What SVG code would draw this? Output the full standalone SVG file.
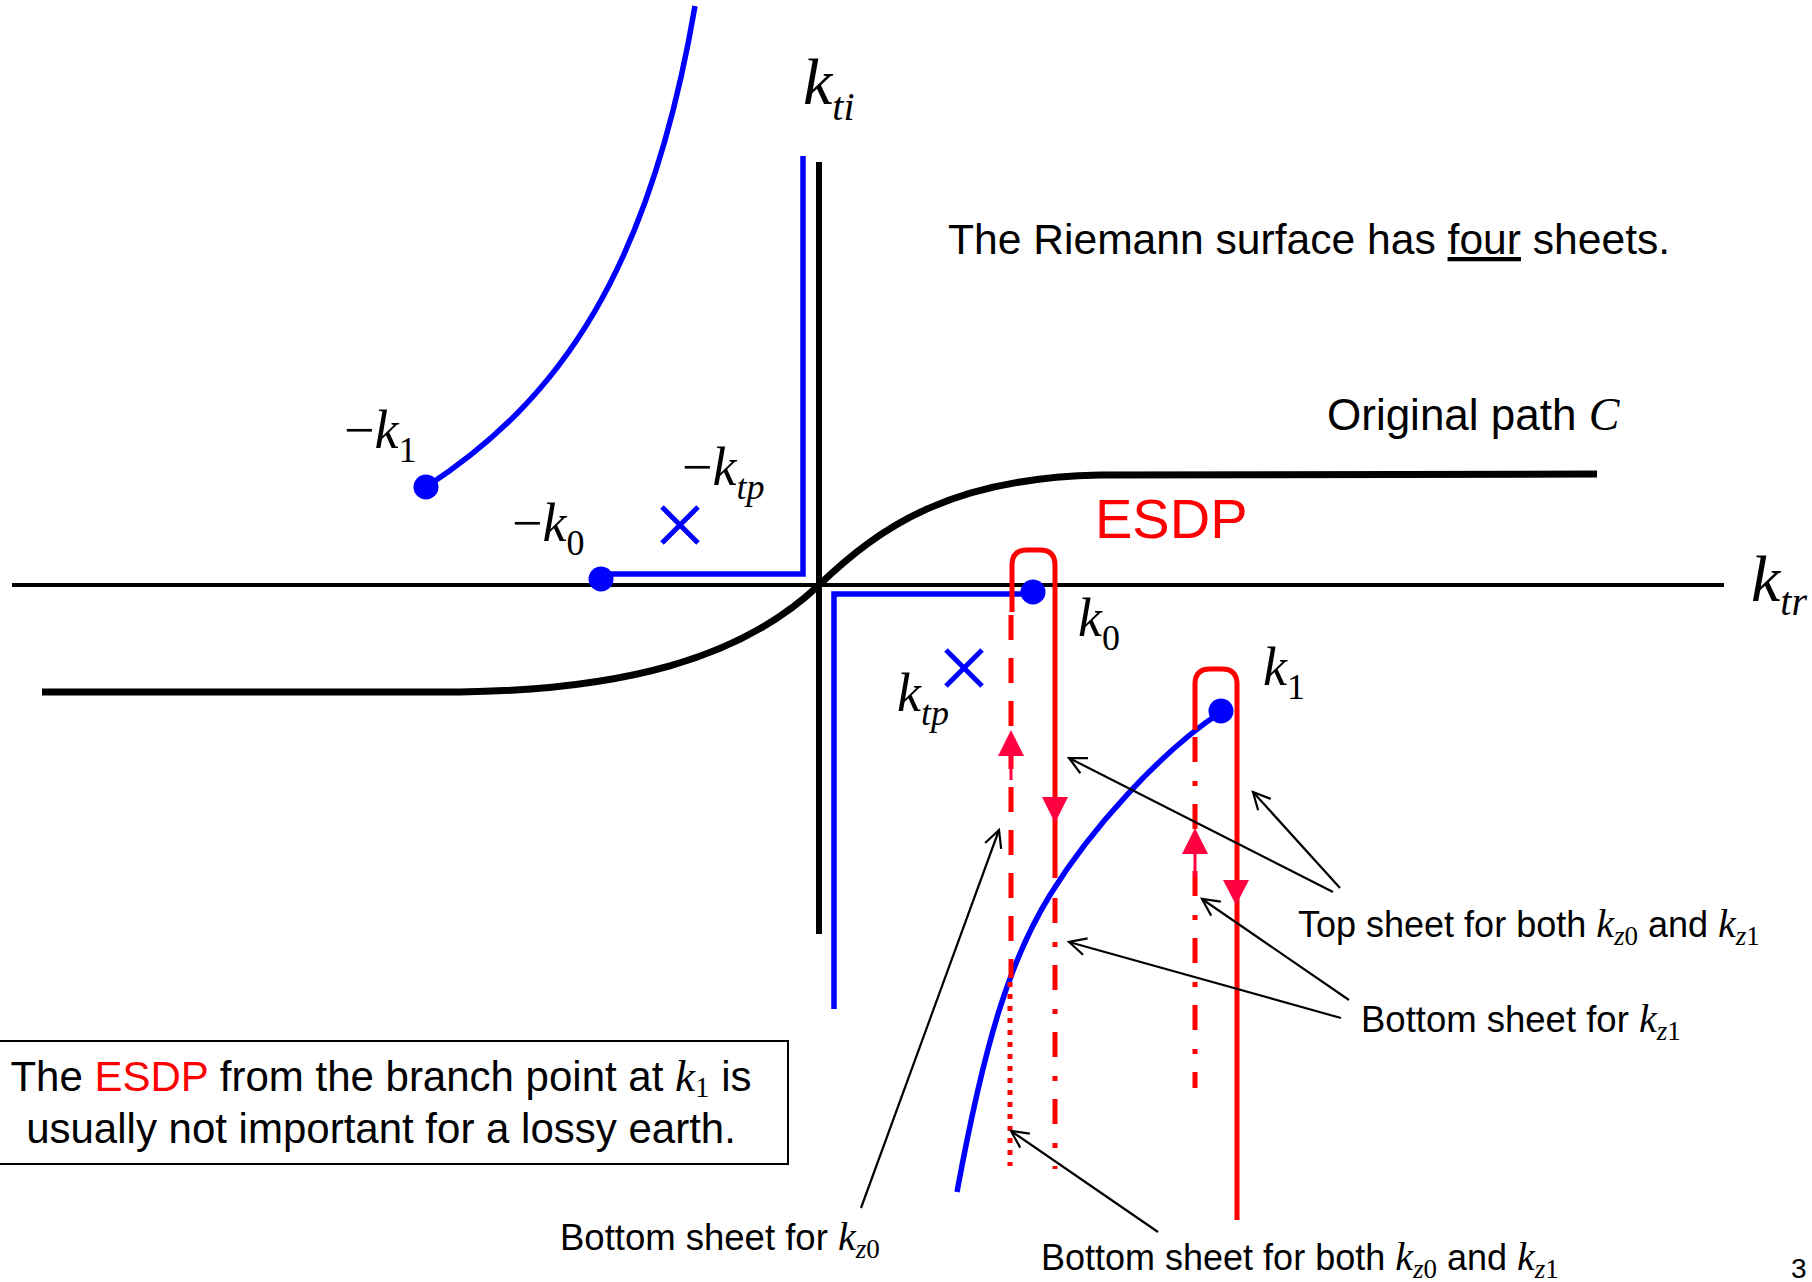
<svg xmlns="http://www.w3.org/2000/svg" width="1812" height="1282" viewBox="0 0 1812 1282">
<defs>
<style>
.sans{font-family:"Liberation Sans",Arial,sans-serif;fill:#000}
.ser{font-family:"Liberation Serif","Times New Roman",serif;fill:#000}
.it{font-style:italic}
.blue{stroke:#0000FF;stroke-width:5.5;fill:none}
.red{stroke:#FF0000;stroke-width:5;fill:none}
.dash{stroke-dasharray:25 18}
.dashdot{stroke-dasharray:25 19 5 18}
.dot{stroke-dasharray:5 7}
.lead{stroke:#000;stroke-width:2.2;fill:none;marker-end:url(#open)}
.rarrow{fill:#FF0040;stroke:none}
.rstem{stroke:#FF0040;stroke-width:3}
.bdot{fill:#0000FF}
</style>
<marker id="open" viewBox="-20 -12 24 24" markerWidth="24" markerHeight="24" refX="0" refY="0" orient="auto" markerUnits="userSpaceOnUse">
<path d="M-17,-8.5 L0,0 L-17,8.5" fill="none" stroke="#000" stroke-width="2.2"/>
</marker>
</defs>
<rect width="1812" height="1282" fill="#fff"/>

<g id="axes">
<line x1="12" y1="585" x2="1724" y2="585" stroke="#000" stroke-width="4"/>
<line x1="819" y1="162" x2="819" y2="934" stroke="#000" stroke-width="6"/>
<text class="ser" x="803" y="104" font-size="66"><tspan class="it">k</tspan><tspan class="it" font-size="40" dy="16">ti</tspan></text>
<text class="ser" x="1751" y="601" font-size="66"><tspan class="it">k</tspan><tspan class="it" font-size="40" dy="14">tr</tspan></text>
</g>

<g id="path-C">
<path d="M42,692 L460,692 C620,690 740,660 819,585 C880,527 950,478 1100,475 L1597,474" fill="none" stroke="#000" stroke-width="7"/>
<text class="sans" x="1327" y="430" font-size="44">Original path <tspan class="ser it" font-size="46">C</tspan></text>
</g>

<g id="branch-cuts">
<path class="blue" d="M426,487 C560,400 650,270 695,6"/>
<path class="blue" d="M803,156 V574 H601"/>
<path class="blue" d="M1033,594 H834 V1009"/>
<path class="blue" d="M1221,712 C1160,752 1090,830 1050,895 C1010,960 985,1040 957,1192"/>
</g>

<g id="node-minus-k1">
<circle class="bdot" cx="426" cy="487" r="12.5"/>
<text class="ser" x="344" y="448" font-size="54">−<tspan class="it">k</tspan><tspan font-size="36" dy="14">1</tspan></text>
</g>
<g id="node-minus-k0">
<circle class="bdot" cx="601" cy="579" r="12.5"/>
<text class="ser" x="512" y="541" font-size="54">−<tspan class="it">k</tspan><tspan font-size="36" dy="14">0</tspan></text>
</g>
<g id="node-minus-ktp">
<path d="M662,507 L698,543 M698,507 L662,543" stroke="#0000FF" stroke-width="5"/>
<text class="ser" x="682" y="485" font-size="54">−<tspan class="it">k</tspan><tspan class="it" font-size="36" dy="14">tp</tspan></text>
</g>
<g id="node-ktp">
<path d="M946,650 L982,686 M982,650 L946,686" stroke="#0000FF" stroke-width="5"/>
<text class="ser" x="897" y="711" font-size="54"><tspan class="it">k</tspan><tspan class="it" font-size="36" dy="14">tp</tspan></text>
</g>

<g id="esdp-k0">
<path class="red" d="M1012,612 V565 Q1012,550 1027,550 H1040 Q1055,550 1055,565 V878"/>
<path class="red dash" d="M1011,615 V978"/>
<path class="red dot" d="M1010,982 V1166"/>
<path class="red dashdot" d="M1055,898 V1169"/>
<line class="rstem" x1="1011" y1="752" x2="1011" y2="780"/>
<polygon class="rarrow" points="1011,730 1024,756 998,756"/>
<polygon class="rarrow" points="1055,823 1068,797 1042,797"/>
</g>

<g id="node-k0">
<circle class="bdot" cx="1033" cy="592" r="12.5"/>
<text class="ser" x="1078" y="636" font-size="54"><tspan class="it">k</tspan><tspan font-size="36" dy="14">0</tspan></text>
</g>

<g id="esdp-k1">
<path class="red" d="M1195,730 V684 Q1195,669 1210,669 H1222 Q1237,669 1237,684 V1220"/>
<path class="red dashdot" d="M1195,737 V1088"/>
<line class="rstem" x1="1195" y1="850" x2="1195" y2="877"/>
<polygon class="rarrow" points="1195,828 1208,854 1182,854"/>
<polygon class="rarrow" points="1236,905 1249,880 1223,880"/>
</g>

<g id="node-k1">
<circle class="bdot" cx="1221" cy="711" r="12.5"/>
<text class="ser" x="1263" y="685" font-size="54"><tspan class="it">k</tspan><tspan font-size="36" dy="14">1</tspan></text>
</g>

<g id="title">
<text class="sans" x="948" y="254" font-size="42.6">The Riemann surface has <tspan text-decoration="underline">four</tspan> sheets.</text>
</g>
<g id="esdp-label">
<text class="sans" x="1095" y="538" font-size="56" style="fill:#FF0000">ESDP</text>
</g>

<g id="connectors">
<line class="lead" x1="1333" y1="892" x2="1069" y2="758"/>
<line class="lead" x1="1340" y1="888" x2="1253" y2="792"/>
<line class="lead" x1="1341" y1="1018" x2="1069" y2="942"/>
<line class="lead" x1="1349" y1="1000" x2="1202" y2="899"/>
<line class="lead" x1="861" y1="1208" x2="999" y2="830"/>
<line class="lead" x1="1158" y1="1232" x2="1011" y2="1131"/>
</g>

<g id="label-top-both">
<text class="sans" x="1298" y="937" font-size="36">Top sheet for both <tspan class="ser it" font-size="40">k</tspan><tspan class="ser" font-size="27" dy="8"><tspan class="it">z</tspan>0</tspan><tspan dy="-8"> and </tspan><tspan class="ser it" font-size="40">k</tspan><tspan class="ser" font-size="27" dy="8"><tspan class="it">z</tspan>1</tspan></text>
</g>
<g id="label-bottom-kz1">
<text class="sans" x="1361" y="1032" font-size="36.5">Bottom sheet for <tspan class="ser it" font-size="40">k</tspan><tspan class="ser" font-size="27" dy="8"><tspan class="it">z</tspan>1</tspan></text>
</g>
<g id="label-bottom-kz0">
<text class="sans" x="560" y="1250" font-size="36.5">Bottom sheet for <tspan class="ser it" font-size="40">k</tspan><tspan class="ser" font-size="27" dy="8"><tspan class="it">z</tspan>0</tspan></text>
</g>
<g id="label-bottom-both">
<text class="sans" x="1041" y="1270" font-size="36">Bottom sheet for both <tspan class="ser it" font-size="40">k</tspan><tspan class="ser" font-size="27" dy="8"><tspan class="it">z</tspan>0</tspan><tspan dy="-8"> and </tspan><tspan class="ser it" font-size="40">k</tspan><tspan class="ser" font-size="27" dy="8"><tspan class="it">z</tspan>1</tspan></text>
</g>

<g id="note-box">
<rect x="-1" y="1041" width="789" height="123" fill="none" stroke="#000" stroke-width="2"/>
<text class="sans" x="381" y="1091" font-size="42" text-anchor="middle">The <tspan style="fill:#FF0000">ESDP</tspan> from the branch point at <tspan class="ser it" font-size="45">k</tspan><tspan class="ser" font-size="29" dy="6">1</tspan><tspan dy="-6"> is</tspan></text>
<text class="sans" x="381" y="1143" font-size="42" text-anchor="middle">usually not important for a lossy earth.</text>
</g>

<text class="sans" x="1791" y="1278" font-size="28">3</text>
</svg>
